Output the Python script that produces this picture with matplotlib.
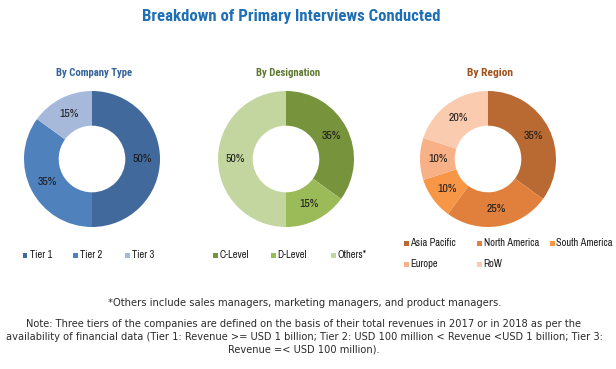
import matplotlib
matplotlib.use("Agg")
import matplotlib.pyplot as plt
from matplotlib.patches import Rectangle

# data
company_labels = ["Tier 1", "Tier 2", "Tier 3"]
company_values = [50, 35, 15]
designation_labels = ["C-Level", "D-Level", "Others*"]
designation_values = [35, 15, 50]
region_labels = ["Asia Pacific", "North America", "South America", "Europe", "RoW"]
region_values = [35, 25, 10, 10, 20]

company_colors = ["#41699b", "#4f81bd", "#a7b9db"]
designation_colors = ["#77933c", "#9bbb59", "#c4d6a0"]
region_colors = ["#b96a32", "#e0803c", "#f79646", "#f8b086", "#fbcbb0"]

W, H = 616, 369
fig = plt.figure(figsize=(W / 100, H / 100), dpi=100)
fig.patch.set_facecolor("white")
renderer = fig.canvas.get_renderer()

NARROW = ["Archivo Narrow", "DejaVu Sans"]
BOLD_NARROW = ["Roboto Condensed", "DejaVu Sans"]


def px(x, y):
    # pixel coords (from top-left) to figure fraction
    return x / W, 1 - y / H


def fit(t, target):
    # scale a text's font size so it spans about target pixels
    w = t.get_window_extent(renderer).width
    t.set_fontsize(t.get_fontsize() * target / w)


def donut(cx, cy, r, values, colors, title, title_color, title_w):
    x0, y1 = px(cx - r, cy - r)
    ax = fig.add_axes([x0, y1 - 2 * r / H, 2 * r / W, 2 * r / H])
    ax.pie(values, colors=colors, startangle=90, counterclock=False,
           radius=1.0, wedgeprops=dict(width=0.51, edgecolor="none"),
           autopct="%d%%", pctdistance=0.74,
           textprops=dict(fontsize=8.5, family=NARROW, color="#1a1a1a"))
    ax.set_xlim(-1, 1)
    ax.set_ylim(-1, 1)
    ax.set_aspect("equal")
    ax.axis("off")
    tx, ty = px(cx + 2, 73)
    t = fig.text(tx, ty, title, ha="center", va="center", fontsize=8,
                 fontweight="bold", family=BOLD_NARROW, color=title_color)
    fit(t, title_w)
    return ax


def legend(items, colors, xs, ys):
    for lab, col, x, y in zip(items, colors, xs, ys):
        fx, fy = px(x - 2.5, y + 2.5)
        fig.add_artist(Rectangle((fx, fy), 5 / W, 5 / H, transform=fig.transFigure,
                                 facecolor=col, edgecolor="none"))
        tx, ty = px(x + 4.5, y)
        fig.text(tx, ty, lab, ha="left", va="center", fontsize=7.5,
                 family=NARROW, color="#1a1a1a")


tx, ty = px(291, 16)
title = fig.text(tx, ty, "Breakdown of Primary Interviews Conducted", ha="center",
                 va="center", fontsize=13, fontweight="bold", family=BOLD_NARROW, color="#1f6fb5")
fit(title, 297)

donut(92, 159, 68, company_values, company_colors, "By Company Type", "#35639a", 77)
donut(286, 159, 68, designation_values, designation_colors, "By Designation", "#5f7a32", 65)
donut(488, 159, 68, region_values, region_colors, "By Region", "#a0521c", 46)

legend(company_labels, company_colors, [25, 75, 127], [255, 255, 255])
legend(designation_labels, designation_colors, [215, 273, 333], [255, 255, 255])
legend(region_labels, region_colors, [406, 479, 552, 406, 479], [243, 243, 243, 264, 264])

note_font = dict(fontsize=7.0, family="DejaVu Sans", color="#2b2b2b", ha="center", va="center")
fx, fy = px(305, 303)
foot = fig.text(fx, fy, "*Others include sales managers, marketing managers, and product managers.", **note_font)
fit(foot, 397)
note_lines = [
    "Note: Three tiers of the companies are defined on the basis of their total revenues in 2017 or in 2018 as per the",
    "availability of financial data (Tier 1: Revenue >= USD 1 billion; Tier 2: USD 100 million < Revenue <USD 1 billion; Tier 3:",
    "Revenue =< USD 100 million).",
]
notes = []
for i, line in enumerate(note_lines):
    fx, fy = px(304, 324 + 13 * i)
    notes.append(fig.text(fx, fy, line, **note_font))
fit(notes[1], 600)
for t in notes:
    t.set_fontsize(notes[1].get_fontsize())

fig.savefig("out.png", dpi=100, facecolor="white")
